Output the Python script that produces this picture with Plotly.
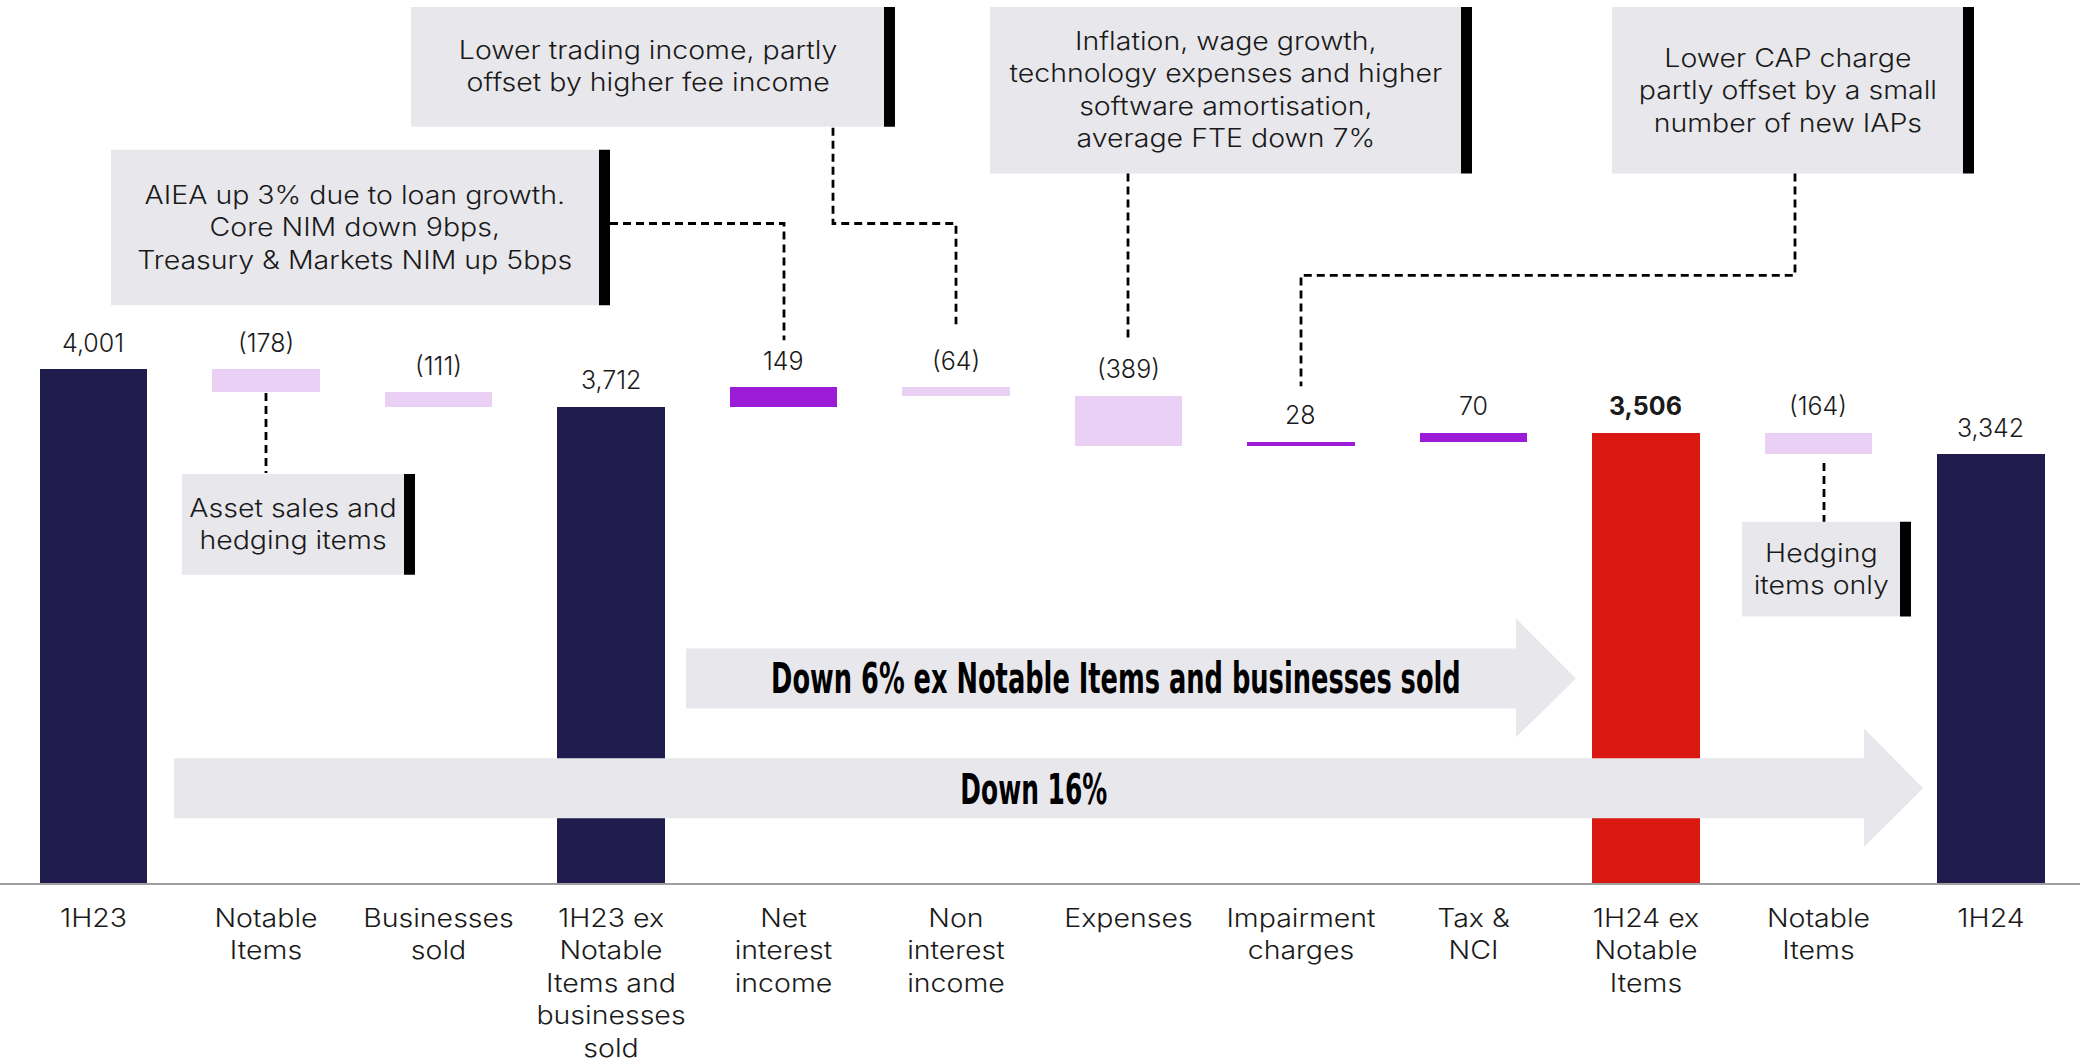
import json
import plotly.graph_objects as go

# ---------------- data ----------------
categories = ["1H23", "Notable<br>Items", "Businesses<br>sold",
              "1H23 ex<br>Notable<br>Items and<br>businesses<br>sold",
              "Net<br>interest<br>income", "Non<br>interest<br>income", "Expenses",
              "Impairment<br>charges", "Tax &<br>NCI", "1H24 ex<br>Notable<br>Items",
              "Notable<br>Items", "1H24"]
values = [4001, -178, -111, 3712, 149, -64, -389, 28, 70, 3506, -164, 3342]
measures = ["total", "relative", "relative", "total", "relative", "relative",
            "relative", "relative", "relative", "total", "relative", "total"]
highlight = [False, False, False, False, False, False, False, False, False, True, False, False]

callout_texts = [
    "AIEA up 3% due to loan growth.<br>Core NIM down 9bps,<br>Treasury & Markets NIM up 5bps",
    "Lower trading income, partly<br>offset by higher fee income",
    "Inflation, wage growth,<br>technology expenses and higher<br>software amortisation,<br>average FTE down 7%",
    "Lower CAP charge<br>partly offset by a small<br>number of new IAPs",
    "Asset sales and<br>hedging items",
    "Hedging<br>items only",
]
arrow_texts = ["Down 6% ex Notable Items and businesses sold", "Down 16%"]

# ---------------- styling ----------------
NAVY = "#201C4E"
RED = "#DA1812"
PURPLE = "#9B1BD6"
PINK = "#EBD0F5"
GREY = "#E8E8EC"
TXT = "#1a1a1a"
FONT = "Inter"
FW = 300
TEXT_STRETCH = 1.14          # horizontal widening of callout / tick text (wide geometric face)
ARROW_FONT = "DejaVu Sans"
ARROW_TEXT_W = [690, 147]    # rendered widths of the condensed arrow captions (px)

W, H = 2080, 1063
BASE_PX = 885  # pixel row of the x axis
YMAX = 6879

# ---------------- derive bars ----------------
bases, heights, tops, colors, labels = [], [], [], [], []
run = 0
for v, m, hl in zip(values, measures, highlight):
    if m == "total":
        b, h, run = 0, v, v
        top = v
        c = RED if hl else NAVY
        lab = f"{v:,}"
    else:
        new = run + v
        b, h, top = min(run, new), abs(v), max(run, new)
        run = new
        c = PURPLE if v > 0 else PINK
        lab = f"{v:,}" if v > 0 else f"({abs(v):,})"
    if hl:
        lab = f"<b>{lab}</b>"
    bases.append(b); heights.append(h); tops.append(top); colors.append(c); labels.append(lab)

idx = list(range(len(categories)))

fig = go.Figure()
fig.add_trace(go.Bar(x=idx, y=heights, base=bases, marker=dict(color=colors, line=dict(width=0)),
                     width=0.623, hoverinfo="skip", showlegend=False))

annotations = []
for i, t, lab in zip(idx, tops, labels):
    annotations.append(dict(x=i, y=t, xref="x", yref="y", text=lab, showarrow=False,
                            yanchor="middle", yshift=26.5,
                            font=dict(family=FONT, size=25, color=TXT, weight=FW)))

def px(x):
    return x / W

def py(y):
    return (BASE_PX - y) / BASE_PX

shapes = []

# callout boxes (pixel geometry)
boxes = [
    (111, 610, 150, 306),
    (411, 895, 7, 127),
    (990, 1472, 7, 174),
    (1612, 1974, 7, 174),
    (182, 415, 475, 576),
    (1742, 1911, 523, 618),
]
BAR_W = 11
for (x0, x1, y0, y1), txt in zip(boxes, callout_texts):
    shapes.append(dict(type="rect", xref="paper", yref="paper", x0=px(x0), x1=px(x1 - BAR_W),
                       y0=py(y1), y1=py(y0), fillcolor=GREY, line=dict(width=0), layer="above"))
    shapes.append(dict(type="rect", xref="paper", yref="paper", x0=px(x1 - BAR_W), x1=px(x1),
                       y0=py(y1), y1=py(y0), fillcolor="#000000", line=dict(width=0), layer="above"))
    annotations.append(dict(x=px((x0 + x1 - BAR_W) / 2), y=py((y0 + y1) / 2), xref="paper", yref="paper",
                            text=txt, showarrow=False, xanchor="center", yanchor="middle", align="center",
                            font=dict(family=FONT, size=25, color=TXT, weight=FW)))

# dashed connectors
connectors = [
    [(610, 224), (784, 224), (784, 341)],
    [(833, 128), (833, 224), (956, 224), (956, 325)],
    [(1128, 174), (1128, 342)],
    [(1795, 174), (1795, 276), (1301, 276), (1301, 387)],
    [(266, 394), (266, 474)],
    [(1824, 464), (1824, 523)],
]
for pts in connectors:
    path = "M " + " L ".join(f"{px(x):.5f},{py(y):.5f}" for x, y in pts)
    shapes.append(dict(type="path", xref="paper", yref="paper", path=path,
                       line=dict(color="#000000", width=2.8, dash="8px,5px"), layer="above"))

# big arrows
arrows = [
    (686, 1516, 1576, 650, 710, 620, 739),
    (174, 1864, 1923, 760, 820, 730, 849),
]
arrow_text_pos = [(1116, 680), (1034, 791)]
for (bx0, hx, tx, by0, by1, hy0, hy1) in arrows:
    ty = (by0 + by1) / 2
    pts = [(bx0, by0), (hx, by0), (hx, hy0), (tx, ty), (hx, hy1), (hx, by1), (bx0, by1)]
    path = "M " + " L ".join(f"{px(x):.5f},{py(y):.5f}" for x, y in pts) + " Z"
    shapes.append(dict(type="path", xref="paper", yref="paper", path=path, fillcolor=GREY,
                       line=dict(width=0), layer="above"))

for (ax, ay), txt in zip(arrow_text_pos, arrow_texts):
    annotations.append(dict(x=px(ax), y=py(ay), xref="paper", yref="paper", text=f"<b>{txt}</b>",
                            showarrow=False, xanchor="center", yanchor="middle",
                            font=dict(family=ARROW_FONT, size=42, color="#000000")))

fig.update_layout(
    width=W, height=H,
    margin=dict(l=0, r=0, t=0, b=H - BASE_PX, pad=0),
    paper_bgcolor="white", plot_bgcolor="white",
    shapes=shapes, annotations=annotations,
    bargap=0,
    xaxis=dict(range=[-0.542, 11.516], tickmode="array", tickvals=idx, ticktext=categories,
               tickfont=dict(family=FONT, size=25, color=TXT, weight=FW), showgrid=False, zeroline=False,
               showline=True, linecolor="#A0A0A0", linewidth=2, ticks="", ticklabelstandoff=12,
               fixedrange=True),
    yaxis=dict(range=[0, YMAX], visible=False, showgrid=False, zeroline=False, fixedrange=True),
    font=dict(family=FONT),
)

width_targets = {t: w for t, w in zip(arrow_texts, ARROW_TEXT_W)}
stretch_keys = [t.replace("<br>", "") for t in callout_texts]
post = """
document.body.style.margin='0';document.body.style.overflow='hidden';
var gd = document.getElementById('{plot_id}');
var targets = TARGETS;
var stretchKeys = KEYS;
var stretch = STRETCH;
function squeeze(t, sx) {
  var bb = t.getBBox();
  var cx = bb.x + bb.width / 2;
  var prev = t.getAttribute('transform') || '';
  t.setAttribute('transform', prev + ' translate(' + cx + ',0) scale(' + sx + ',1) translate(' + (-cx) + ',0)');
}
gd.querySelectorAll('text.annotation-text').forEach(function(t){
  var key = t.textContent;
  if (targets[key]) {
    squeeze(t, targets[key] / t.getBBox().width);
  } else if (stretchKeys.indexOf(key) >= 0) {
    squeeze(t, stretch);
  }
});
gd.querySelectorAll('g.xtick text').forEach(function(t){ squeeze(t, stretch); });
""".replace("TARGETS", json.dumps(width_targets)).replace("KEYS", json.dumps(stretch_keys)).replace("STRETCH", str(TEXT_STRETCH))

fig.write_html("out.html", config={"displayModeBar": False}, post_script=post)
